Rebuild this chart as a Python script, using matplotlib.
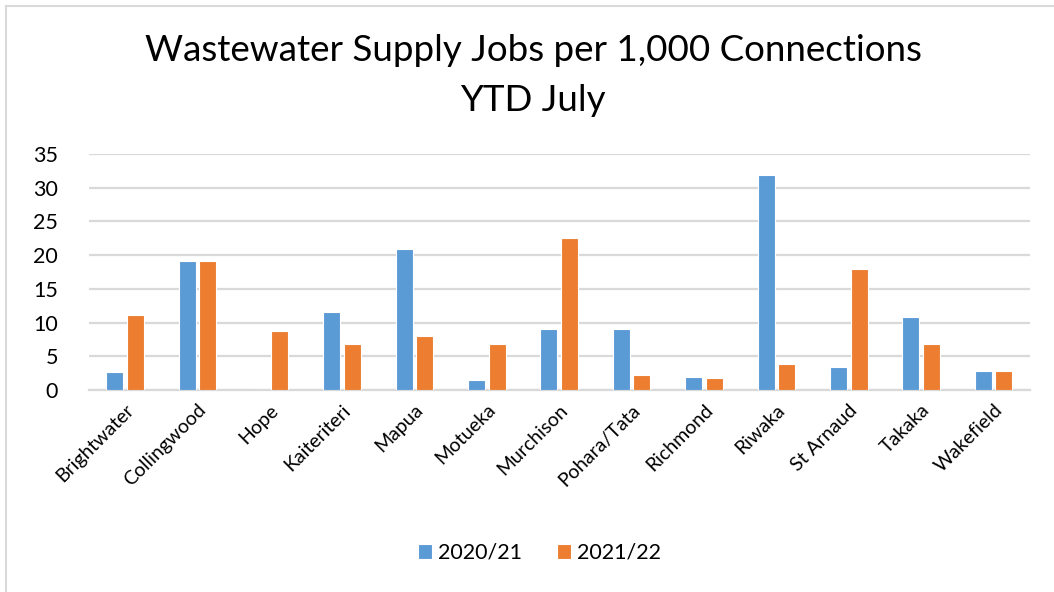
import numpy as np
import matplotlib.pyplot as plt
from matplotlib.patches import Rectangle

plt.rcParams['font.family'] = ['Lato', 'DejaVu Sans']

towns = ['Brightwater', 'Collingwood', 'Hope', 'Kaiteriteri', 'Mapua', 'Motueka',
         'Murchison', 'Pohara/Tata', 'Richmond', 'Riwaka', 'St Arnaud', 'Takaka',
         'Wakefield']
jobs_2021 = [2.7, 19.2, 0, 11.6, 20.9, 1.5, 9.0, 9.0, 1.9, 31.9, 3.5, 10.9, 2.8]
jobs_2122 = [11.1, 19.2, 8.7, 6.9, 8.0, 6.9, 22.6, 2.2, 1.8, 3.9, 17.9, 6.8, 2.8]

blue = '#5B9BD5'
orange = '#ED7D31'

fig = plt.figure(figsize=(10.54, 5.92), dpi=100)
ax = fig.add_axes([0.0842, 0.341, 0.8928, 0.399])

x = np.arange(len(towns))
w = 0.235
ax.bar(x - 0.142, jobs_2021, width=w, color=blue, edgecolor='white', linewidth=0.8,
       label='2020/21', zorder=3)
ax.bar(x + 0.142, jobs_2122, width=w, color=orange, edgecolor='white', linewidth=0.8,
       label='2021/22', zorder=3)

ax.set_xlim(-0.5, len(towns) - 0.5)
ax.set_ylim(0, 35)
ax.set_yticks(range(0, 36, 5))
ax.yaxis.grid(True, color='#D9D9D9', linewidth=1.6, zorder=0)
ax.set_axisbelow(True)
for s in ['top', 'right', 'left']:
    ax.spines[s].set_visible(False)
ax.spines['bottom'].set_color('#D9D9D9')
ax.spines['bottom'].set_linewidth(1.6)
ax.tick_params(axis='both', length=0, colors='black')
ax.tick_params(axis='y', pad=22, labelsize=15.5)
ax.set_xticks(x)
ax.set_xticklabels(towns, rotation=45, ha='right', rotation_mode='anchor', fontsize=14)
ax.tick_params(axis='x', pad=8)

fig.text(0.506, 0.915, 'Wastewater Supply Jobs per 1,000 Connections', ha='center',
         va='center', fontsize=26.5)
fig.text(0.506, 0.830, 'YTD July', ha='center', va='center', fontsize=26.5)

fig.legend(loc='center', bbox_to_anchor=(0.512, 0.066), ncol=2, frameon=False,
           fontsize=15.5, handlelength=0.65, handleheight=0.65, columnspacing=1.6,
           handletextpad=0.3)

fig.patches.append(Rectangle((0.0055, -0.05), 1.5, 1.04, transform=fig.transFigure,
                             fill=False, edgecolor='#D9D9D9', linewidth=1.5))

fig.savefig('out.png', dpi=100)
